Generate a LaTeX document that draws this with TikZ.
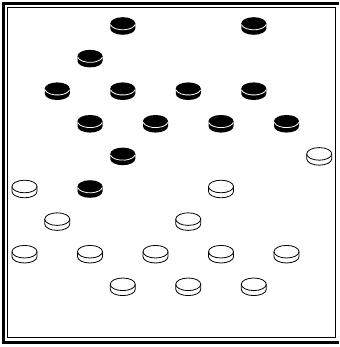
\documentclass[tikz,border=0pt]{standalone}
\usepackage{tikz}
\usetikzlibrary{positioning}
\tikzset{
  % ram
  ram/.style={draw=black,line width=3.3pt},
  ruta/.style={draw=black,line width=0.9pt},
  % brickor
  kant/.style={line width=0.8pt},
  svart/.pic={
    \fill[black] (-12.5,2.5) -- (-12.5,-2.5)
      arc[start angle=180,end angle=360,x radius=12.5,y radius=6.3] -- (12.5,2.5) -- cycle;
    \fill[black] (0,2.5) ellipse[x radius=12.5,y radius=6.3];
    \draw[white,kant] (-12.3,1.4) arc[start angle=190,end angle=350,x radius=12.5,y radius=6.3];
  },
  vit/.pic={
    \filldraw[fill=white,draw=black,kant] (-12.5,2.5) -- (-12.5,-2.5)
      arc[start angle=180,end angle=360,x radius=12.5,y radius=6.3] -- (12.5,2.5);
    \filldraw[fill=white,draw=black,kant] (0,2.5) ellipse[x radius=12.5,y radius=6.3];
  },
}

\begin{document}
\begin{tikzpicture}[x=1pt,y=1pt]
\useasboundingbox (0,0) rectangle (339,-347);
  % bräde
  \draw[ram] (339,-3.3) -- (3.3,-3.3) -- (3.3,-342.5) -- (339,-342.5);
  \draw[ruta] (7.3,-7.3) rectangle (335.7,-337.7);
  % svarta
  \foreach \c/\r [count=\i] in {3/0,7/0,2/1,1/2,3/2,5/2,7/2,2/3,4/3,6/3,8/3,3/4,2/5}
    \pic (s\i) at ({24.5+32.75*\c},{-26-32.6*\r}) {svart};
  % vita
  \foreach \c/\r [count=\i] in {9/4,0/5,6/5,1/6,5/6,0/7,2/7,4/7,6/7,8/7,3/8,5/8,7/8}
    \pic (v\i) at ({24.5+32.75*\c},{-26-32.6*\r}) {vit};
\end{tikzpicture}
\end{document}
